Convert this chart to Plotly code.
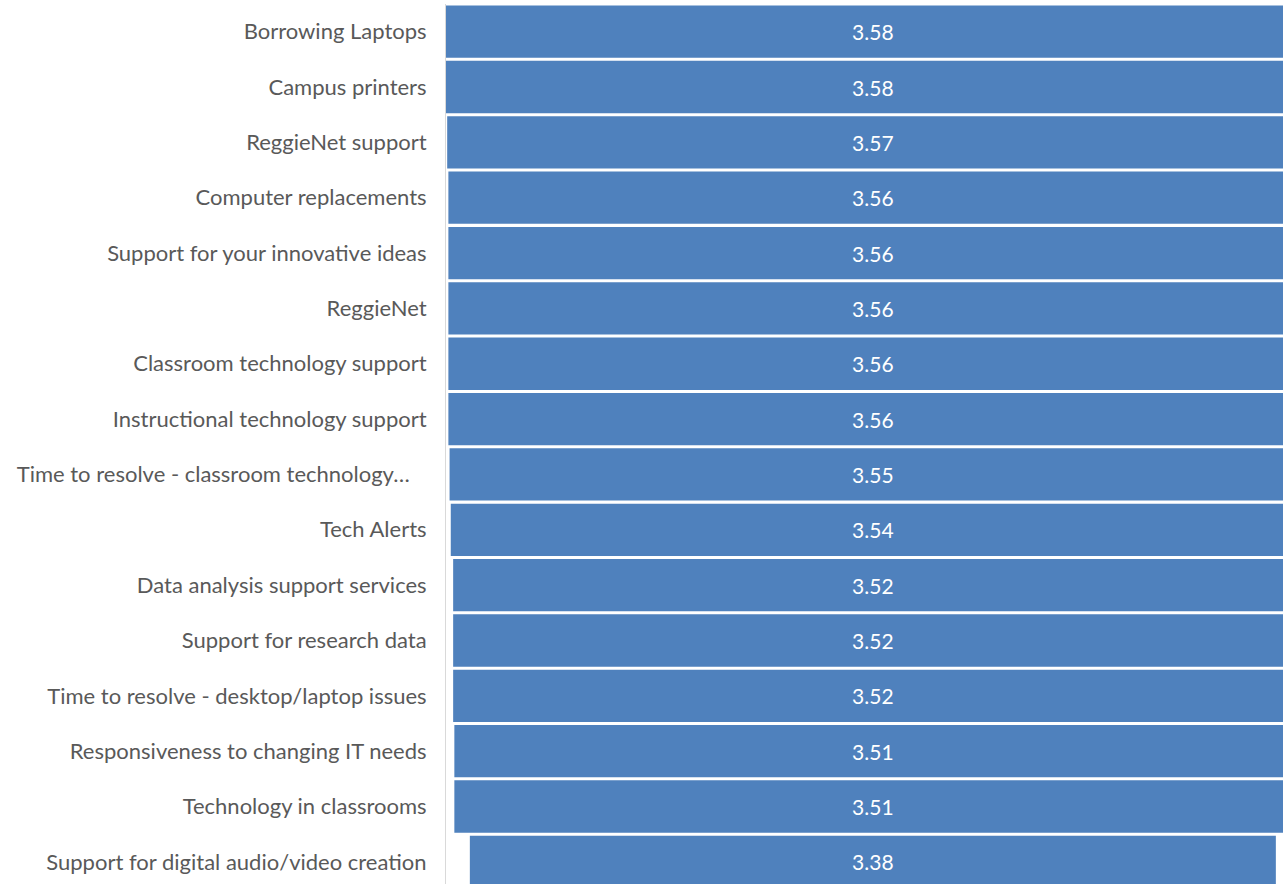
import plotly.graph_objects as go

# Satisfaction ratings by IT service, top to bottom
services = [
    "Borrowing Laptops",
    "Campus printers",
    "ReggieNet support",
    "Computer replacements",
    "Support for your innovative ideas",
    "ReggieNet",
    "Classroom technology support",
    "Instructional technology support",
    "Time to resolve - classroom technology…\u00a0\u00a0\u00a0",
    "Tech Alerts",
    "Data analysis support services",
    "Support for research data",
    "Time to resolve - desktop/laptop issues",
    "Responsiveness to changing IT needs",
    "Technology in classrooms",
    "Support for digital audio/video creation",
]
ratings = [3.58, 3.58, 3.57, 3.56, 3.56, 3.56, 3.56, 3.56,
           3.55, 3.54, 3.52, 3.52, 3.52, 3.51, 3.51, 3.38]

BAR_COLOR = "#4f81bd"
LABEL_FONT = "Lato"

fig = go.Figure(
    go.Funnel(
        y=services,
        x=ratings,
        texttemplate="%{x:.2f}",
        textposition="inside",
        insidetextanchor="middle",
        textfont=dict(family=LABEL_FONT, size=21, color="white"),
        marker=dict(color=BAR_COLOR, line=dict(width=0)),
        connector=dict(visible=False),
        hoverinfo="y+x",
    )
)

fig.update_layout(
    width=1283,
    height=884,
    margin=dict(l=446, r=0, t=4, b=0),
    paper_bgcolor="white",
    plot_bgcolor="white",
    funnelgap=0.055,
    showlegend=False,
    font=dict(family=LABEL_FONT, color="#595959", size=22),
)

fig.update_xaxes(
    range=[-1.79, 1.72],
    visible=False,
    showgrid=False,
    zeroline=False,
)
fig.update_yaxes(
    range=[15.4, -0.5],
    showline=True,
    linecolor="#d9d9d9",
    linewidth=1,
    showgrid=False,
    ticks="",
    ticklabelstandoff=14,
    tickfont=dict(family=LABEL_FONT, size=22, color="#595959"),
)

fig.write_html("out.html")
